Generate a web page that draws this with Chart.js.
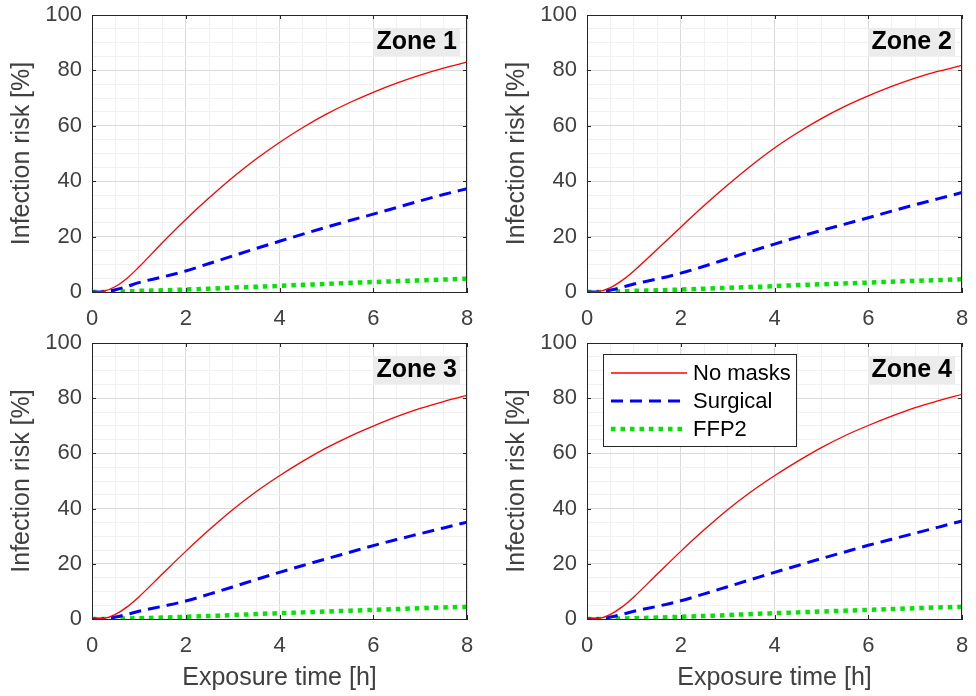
<!DOCTYPE html>
<html>
<head>
<meta charset="utf-8">
<script src="https://cdn.jsdelivr.net/npm/chart.js@4.4.1/dist/chart.umd.min.js"></script>
<style>
  html, body { margin: 0; padding: 0; background: #fff; }
  #wrap { position: relative; width: 976px; height: 696px; overflow: hidden; }
  canvas { position: absolute; }
</style>
</head>
<body>
<div id="wrap">
  <canvas id="zone1" width="488" height="330" style="left:0px;top:0px"></canvas>
  <canvas id="zone2" width="481" height="330" style="left:495px;top:0px"></canvas>
  <canvas id="zone3" width="488" height="366" style="left:0px;top:330px"></canvas>
  <canvas id="zone4" width="481" height="366" style="left:495px;top:330px"></canvas>
</div>
<script>
// exposure time [h]
const hours = [0, 0.25, 0.5, 0.75, 1, 1.5, 2, 2.5, 3, 3.5, 4, 4.5, 5, 5.5, 6, 6.5, 7, 7.5, 8];

// infection risk [%]
const zone1NoMasks  = [0, 0.3, 2, 5, 9, 17.8, 26.2, 34, 41.3, 48, 54, 59.4, 64.2, 68.4, 72.1, 75.4, 78.3, 80.8, 83];
const zone1Surgical = [0, 0.1, 0.8, 2, 3.4, 5.4, 7.6, 10.3, 13, 15.7, 18.3, 20.9, 23.4, 25.8, 28.1, 30.5, 32.9, 35.2, 37.3];
const zone1Ffp2     = [0, 0, 0.1, 0.2, 0.4, 0.6, 0.9, 1.2, 1.6, 1.9, 2.2, 2.6, 2.9, 3.3, 3.6, 3.9, 4.2, 4.5, 4.8];

const zone2NoMasks  = [0, 0.2, 1.6, 4.2, 7.6, 15.4, 23.4, 31.2, 38.6, 45.6, 52, 57.6, 62.6, 67, 70.8, 74.2, 77.2, 79.7, 81.8];
const zone2Surgical = [0, 0.1, 0.7, 1.7, 2.9, 4.7, 6.8, 9.3, 12, 14.7, 17.3, 19.8, 22.2, 24.5, 26.8, 29.2, 31.5, 33.7, 35.9];
const zone2Ffp2     = [0, 0, 0.1, 0.2, 0.4, 0.6, 0.9, 1.2, 1.5, 1.8, 2.1, 2.5, 2.8, 3.1, 3.4, 3.7, 4, 4.3, 4.6];

const zone3NoMasks  = [0, 0.2, 1.7, 4.4, 8, 16.3, 24.5, 32.3, 39.6, 46.1, 51.9, 57.2, 62, 66.2, 69.9, 73.3, 76.3, 78.8, 81];
const zone3Surgical = [0, 0.1, 0.7, 1.7, 2.8, 4.6, 6.5, 9, 11.6, 14.3, 16.9, 19.4, 21.8, 24.2, 26.6, 28.8, 30.9, 33, 35.1];
const zone3Ffp2     = [0, 0, 0.1, 0.2, 0.3, 0.5, 0.8, 1.1, 1.4, 1.8, 2.1, 2.4, 2.7, 3, 3.3, 3.6, 3.9, 4.2, 4.4];

const zone4NoMasks  = [0, 0.2, 1.7, 4.4, 8, 16.3, 24.5, 32.3, 39.6, 46.1, 51.9, 57.2, 62.1, 66.4, 70.1, 73.5, 76.6, 79.1, 81.4];
const zone4Surgical = [0, 0.1, 0.7, 1.7, 2.8, 4.6, 6.6, 9.1, 11.7, 14.3, 16.9, 19.4, 21.9, 24.3, 26.7, 28.9, 31.1, 33.3, 35.5];
const zone4Ffp2     = [0, 0, 0.1, 0.2, 0.3, 0.5, 0.8, 1.1, 1.4, 1.8, 2.1, 2.4, 2.7, 3, 3.3, 3.6, 3.9, 4.2, 4.4];

const seriesNames = ['No masks', 'Surgical', 'FFP2'];
const xTickLabels = [0, 2, 4, 6, 8];
const yTickLabels = [0, 20, 40, 60, 80, 100];

const tickColor = '#404040';
const fontFamily = '"Liberation Sans", Arial, sans-serif';

function pontos(valores) {
  return hours.map((h, i) => ({ x: h, y: valores[i] }));
}

// box round the plot, inner ticks, zone label and the legend inside zone 4
const moldura = {
  id: 'moldura',
  afterDatasetsDraw(chart, args, opts) {
    const ctx = chart.ctx;
    const a = chart.chartArea;
    const sx = chart.scales.x, sy = chart.scales.y;
    ctx.save();
    ctx.strokeStyle = '#262626';
    ctx.lineWidth = 1;
    ctx.strokeRect(a.left + 0.5, a.top + 0.5, a.right - a.left - 1, a.bottom - a.top);
    ctx.beginPath();
    xTickLabels.forEach(v => {
      const px = Math.round(sx.getPixelForValue(v)) + 0.5;
      ctx.moveTo(px, a.bottom); ctx.lineTo(px, a.bottom - 4);
      ctx.moveTo(px, a.top); ctx.lineTo(px, a.top + 4);
    });
    yTickLabels.forEach(v => {
      const py = Math.round(sy.getPixelForValue(v)) + 0.5;
      ctx.moveTo(a.left, py); ctx.lineTo(a.left + 4, py);
      ctx.moveTo(a.right, py); ctx.lineTo(a.right - 4, py);
    });
    ctx.stroke();

    // zone label
    ctx.fillStyle = '#ececec';
    ctx.fillRect(a.right - 94, a.top + 13, 87, 28);
    ctx.fillStyle = '#000';
    ctx.font = 'bold 25px ' + fontFamily;
    ctx.textAlign = 'right';
    ctx.textBaseline = 'middle';
    ctx.fillText(opts.zone, a.right - 10, a.top + 27);

    if (opts.legend) {
      const bx = a.left + 16, by = a.top + 11;
      ctx.fillStyle = '#fff';
      ctx.fillRect(bx, by, 193, 92);
      ctx.strokeStyle = '#262626';
      ctx.lineWidth = 1;
      ctx.strokeRect(bx + 0.5, by + 0.5, 193, 92);
      chart.data.datasets.forEach((ds, i) => {
        const ry = by + 19 + i * 28;
        ctx.beginPath();
        ctx.strokeStyle = ds.borderColor;
        ctx.lineWidth = ds.borderWidth;
        ctx.setLineDash(ds.borderDash || []);
        ctx.moveTo(bx + 8, ry);
        ctx.lineTo(bx + 84, ry);
        ctx.stroke();
        ctx.setLineDash([]);
        ctx.fillStyle = '#000';
        ctx.font = '22px ' + fontFamily;
        ctx.textAlign = 'left';
        ctx.fillText(ds.label, bx + 90, ry + 1);
      });
    }
    ctx.restore();
  }
};

// the plot area has to sit where the reference puts it, so the label overhang is dropped
function semFolga(s) {
  s.paddingTop = 0;
  s.paddingBottom = 0;
  s.paddingLeft = 0;
  s.paddingRight = 0;
}

function criaGrafico(id, nome, noMasks, surgical, ffp2, comEixoX, comLegenda, padRight, padTop) {
  return new Chart(document.getElementById(id), {
    type: 'line',
    data: {
      datasets: [
        { label: seriesNames[0], data: pontos(noMasks), borderColor: '#ff0000', borderWidth: 1.3 },
        { label: seriesNames[1], data: pontos(surgical), borderColor: '#0000ff', borderWidth: 3, borderDash: [12, 7] },
        { label: seriesNames[2], data: pontos(ffp2), borderColor: '#00e600', borderWidth: 4.5, borderDash: [4.5, 5] }
      ]
    },
    options: {
      responsive: false,
      animation: false,
      devicePixelRatio: 1,
      layout: { padding: { top: padTop, right: padRight, left: 0, bottom: 0 } },
      elements: {
        point: { radius: 0, hoverRadius: 0 },
        line: { cubicInterpolationMode: 'monotone', borderCapStyle: 'butt' }
      },
      plugins: {
        legend: { display: false },
        tooltip: { enabled: false },
        moldura: { zone: nome, legend: comLegenda }
      },
      scales: {
        x: {
          type: 'linear',
          min: 0, max: 8,
          afterFit: s => { s.height = comEixoX ? 77 : 38; semFolga(s); },
          grid: {
            drawTicks: false,
            color: c => (c.tick && xTickLabels.includes(c.tick.value)) ? '#dadada' : '#f1f1f1'
          },
          border: { color: '#262626', width: 1 },
          ticks: {
            stepSize: 0.5,
            autoSkip: false,
            maxRotation: 0,
            padding: 14,
            color: tickColor,
            font: { family: fontFamily, size: 22 },
            callback: v => xTickLabels.includes(v) ? String(v) : ''
          },
          title: {
            display: comEixoX,
            text: 'Exposure time [h]',
            color: tickColor,
            font: { family: fontFamily, size: 25 },
            padding: { top: 0, bottom: 3 }
          }
        },
        y: {
          min: 0, max: 100,
          afterFit: s => { s.width = 92; semFolga(s); },
          grid: {
            drawTicks: false,
            color: c => (c.tick && yTickLabels.includes(c.tick.value)) ? '#dadada' : '#f1f1f1'
          },
          border: { color: '#262626', width: 1 },
          ticks: {
            stepSize: 5,
            autoSkip: false,
            padding: 10,
            color: tickColor,
            font: { family: fontFamily, size: 22 },
            callback: v => yTickLabels.includes(v) ? String(v) : ''
          },
          title: {
            display: true,
            text: 'Infection risk [%]',
            color: tickColor,
            font: { family: fontFamily, size: 25 },
            padding: { top: 7, bottom: 0 }
          }
        }
      }
    },
    plugins: [moldura]
  });
}

criaGrafico('zone1', 'Zone 1', zone1NoMasks, zone1Surgical, zone1Ffp2, false, false, 21, 15);
criaGrafico('zone2', 'Zone 2', zone2NoMasks, zone2Surgical, zone2Ffp2, false, false, 14, 15);
criaGrafico('zone3', 'Zone 3', zone3NoMasks, zone3Surgical, zone3Ffp2, true, false, 21, 13);
criaGrafico('zone4', 'Zone 4', zone4NoMasks, zone4Surgical, zone4Ffp2, true, true, 14, 13);
</script>
</body>
</html>
